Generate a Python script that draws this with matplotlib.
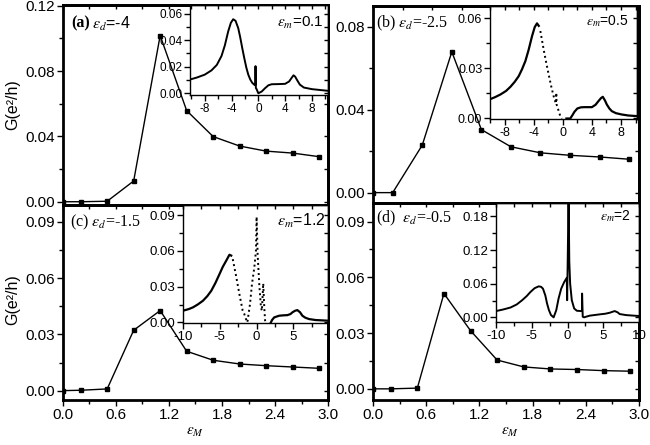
import numpy as np
import matplotlib.pyplot as plt
from matplotlib.ticker import MultipleLocator, FormatStrFormatter

plt.rcParams['font.family'] = ['Liberation Sans', 'DejaVu Sans']
plt.rcParams['mathtext.fontset'] = 'stix'

W, H = 650, 445

# main panels: G(e^2/h) against eps_M
eps_M = [0.0, 0.2, 0.5, 0.8, 1.1, 1.4, 1.7, 2.0, 2.3, 2.6, 2.9]
eps_M_b = [0.0, 0.2, 0.5, 0.8, 1.1, 1.4, 1.7, 2.0, 2.3, 2.6]
G_a = [0.0, 0.0, 0.0003, 0.0127, 0.1018, 0.0558, 0.0399, 0.0341, 0.0310, 0.0298, 0.0276]
G_b = [0.0, 0.0, 0.0229, 0.0679, 0.0304, 0.0221, 0.0192, 0.0180, 0.0172, 0.0161]
G_c = [0.0, 0.0002, 0.0009, 0.0322, 0.0427, 0.0210, 0.0162, 0.0142, 0.0133, 0.0126, 0.0119]
G_d = [0.0, 0.0, 0.0004, 0.0513, 0.0313, 0.0155, 0.0118, 0.0107, 0.0104, 0.0098, 0.0095]

# insets (G against energy)
ins_a_x = [-10.3, -9.2, -8.0, -7.0, -6.2, -5.5, -5.0, -4.5, -4.1, -3.75, -3.4, -3.0, -2.7, -2.4,
           -2.1, -1.8, -1.5, -1.2, -0.9, -0.6, -0.45, -0.42, -0.40, -0.37, -0.25, 0.0, 0.5, 1.0,
           1.5, 2.0, 3.0, 4.0, 4.6, 5.0, 5.25, 5.5, 5.8, 6.2, 6.8, 8.0, 10.5]
ins_a_y = [0.0102, 0.0118, 0.0140, 0.0172, 0.0213, 0.0280, 0.0360, 0.0465, 0.0530, 0.0557, 0.0545,
           0.0490, 0.0420, 0.0340, 0.0265, 0.0195, 0.0140, 0.0103, 0.0078, 0.0064, 0.0062, 0.0204,
           0.0120, 0.0040, 0.0030, 0.0, 0.0013, 0.0038, 0.0060, 0.0068, 0.0069, 0.0071, 0.0089,
           0.0118, 0.0135, 0.0125, 0.0098, 0.0065, 0.0043, 0.0031, 0.0018]

ins_b_x = [-10.3, -9.3, -8.56, -7.8, -7.19, -6.6, -6.05, -5.6, -5.14, -4.7, -4.22, -3.85, -3.54,
           -3.3, -3.08, -2.63, -2.3, -1.94, -1.6, -1.26, -0.95, -0.89, -0.85, -0.6, -0.34, -0.12,
           0.5, 1.03, 1.3, 1.6, 2.0, 2.5, 3.0, 4.0, 4.5, 4.9, 5.25, 5.5, 5.8, 6.05, 6.4, 6.74,
           7.3, 8.1, 9.0, 10.3]
ins_b_y = [0.0110, 0.0128, 0.0144, 0.0165, 0.0190, 0.0220, 0.0254, 0.0295, 0.0344, 0.0410, 0.0494,
           0.0548, 0.0570, 0.0555, 0.0524, 0.0414, 0.0340, 0.0264, 0.0195, 0.0134, 0.0090, 0.0154,
           0.0084, 0.0050, 0.0014, 0.0, 0.0, 0.0, 0.0018, 0.0040, 0.0060, 0.0067, 0.0068, 0.0068,
           0.0082, 0.0104, 0.0122, 0.0130, 0.0108, 0.0084, 0.0060, 0.0044, 0.0032, 0.0024, 0.0018,
           0.0014]
ins_b_dots = (-3.1, -0.1)

ins_c_x = [-10.0, -9.2, -8.65, -8.0, -7.3, -6.7, -6.16, -5.6, -5.04, -4.6, -4.14, -3.69, -3.45,
           -3.24, -2.79, -2.34, -1.89, -1.67, -1.44, -1.3, -1.22, -0.9, -0.63, -0.31, -0.09, 0.0,
           0.14, 0.36, 0.59, 0.72, 0.9, 1.04, 1.17, 1.94, 2.1, 2.39, 3.06, 3.6, 4.19, 4.6, 4.86,
           5.2, 5.54, 5.9, 6.22, 6.6, 7.12, 8.0, 9.8]
ins_c_y = [0.0098, 0.0112, 0.0126, 0.0150, 0.0181, 0.0220, 0.0265, 0.0330, 0.0405, 0.0465, 0.0516,
           0.0567, 0.0560, 0.0530, 0.0390, 0.0237, 0.0098, 0.0070, 0.0028, 0.0, 0.0014, 0.0153,
           0.0320, 0.0460, 0.0600, 0.0885, 0.0570, 0.0320, 0.0126, 0.0098, 0.0327, 0.0126, 0.0,
           0.0, 0.0020, 0.0042, 0.0056, 0.0059, 0.0061, 0.0070, 0.0084, 0.0097, 0.0103, 0.0085,
           0.0056, 0.0040, 0.0028, 0.0020, 0.0014]
ins_c_dots = (-3.3, 1.2)

ins_d_x = [-10.0, -9.0, -7.96, -7.1, -6.34, -5.7, -5.18, -4.6, -4.03, -3.7, -3.43, -3.1, -2.86,
           -2.6, -2.31, -1.94, -1.57, -1.25, -0.88, -0.46, -0.1, -0.05, 0.05, 0.15, 0.25, 0.37,
           0.6, 0.93, 1.3, 1.85, 2.02, 2.04, 2.13, 2.3, 3.1, 4.5, 5.3, 5.9, 6.6, 7.0, 7.3, 8.2,
           10.0]
ins_d_y = [0.0112, 0.0140, 0.0176, 0.0230, 0.0306, 0.0380, 0.0453, 0.0520, 0.0553, 0.0545, 0.0512,
           0.0390, 0.0247, 0.0130, 0.0041, 0.0, 0.0129, 0.0335, 0.0512, 0.0630, 0.0706, 0.0306,
           0.1200, 0.2200, 0.1000, 0.0600, 0.0306, 0.0159, 0.0118, 0.0112, 0.0112, 0.0424, 0.0012,
           0.0, 0.0030, 0.0053, 0.0065, 0.0082, 0.0112, 0.0090, 0.0059, 0.0040, 0.0024]


def box(l, r, t, b):
    return [l / W, 1 - b / H, (r - l) / W, (b - t) / H]


def style(ax, xmaj, ymaj, xfmt, yfmt, size, lw, xlabels=True):
    for s in ax.spines.values():
        s.set_linewidth(lw)
    ax.xaxis.set_major_locator(MultipleLocator(xmaj))
    ax.xaxis.set_minor_locator(MultipleLocator(xmaj / 2))
    ax.yaxis.set_major_locator(MultipleLocator(ymaj))
    ax.yaxis.set_minor_locator(MultipleLocator(ymaj / 2))
    ax.xaxis.set_major_formatter(FormatStrFormatter(xfmt))
    ax.yaxis.set_major_formatter(FormatStrFormatter(yfmt))
    ax.tick_params(which='major', direction='out', length=4, width=1, labelsize=size, pad=1.5)
    ax.tick_params(which='minor', direction='out', length=3, width=1)
    if not xlabels:
        ax.tick_params(labelbottom=False)
    top = ax.secondary_xaxis('top')
    top.xaxis.set_major_locator(MultipleLocator(xmaj))
    top.xaxis.set_minor_locator(MultipleLocator(xmaj / 2))
    top.tick_params(which='both', direction='in', labeltop=False, length=3, width=1)
    top.spines['top'].set_linewidth(lw)
    right = ax.secondary_yaxis('right')
    right.yaxis.set_major_locator(MultipleLocator(ymaj))
    right.yaxis.set_minor_locator(MultipleLocator(ymaj / 2))
    right.tick_params(which='both', direction='in', labelright=False, length=3, width=1)
    right.spines['right'].set_linewidth(lw)


def inset_curve(ax, x, y, dots=None):
    x = np.array(x)
    y = np.array(y)
    if dots is None:
        ax.plot(x, y, color='black', lw=1.4)
        return
    lo, hi = dots
    left = x <= lo
    mid = (x >= lo) & (x <= hi)
    right = x >= hi
    ax.plot(x[left], y[left], color='black', lw=1.6)
    ax.plot(x[mid], y[mid], color='black', lw=1.4, ls=(0, (1, 1.6)))
    ax.plot(x[right], y[right], color='black', lw=1.6)


fig = plt.figure(figsize=(W / 100, H / 100), dpi=100)

ax_a = fig.add_axes(box(63, 328, 5, 205))
ax_b = fig.add_axes(box(373, 639, 6, 203))
ax_c = fig.add_axes(box(63, 328, 205, 400))
ax_d = fig.add_axes(box(373, 639, 203, 400))

for ax, xs, g, lim in [(ax_a, eps_M, G_a, (-0.002, 0.1205)),
                       (ax_b, eps_M_b, G_b, (-0.005, 0.09)),
                       (ax_c, eps_M, G_c, (-0.005, 0.099)),
                       (ax_d, eps_M, G_d, (-0.006, 0.1))]:
    ax.plot(xs, g, color='black', lw=1, marker='s', ms=3.5)
    ax.set_ylim(*lim)

ax_a.set_xlim(0, 3.0)
ax_b.set_xlim(0, 2.7)
ax_c.set_xlim(0, 3.0)
ax_d.set_xlim(0, 3.0)

style(ax_a, 0.6, 0.04, '%.1f', '%.2f', 11, 2, xlabels=False)
style(ax_b, 0.6, 0.04, '%.1f', '%.2f', 11, 2, xlabels=False)
style(ax_c, 0.6, 0.03, '%.1f', '%.2f', 11, 2)
style(ax_d, 0.6, 0.03, '%.1f', '%.2f', 11, 2)

# insets
ia = fig.add_axes(box(190, 328, 5, 95))
inset_curve(ia, ins_a_x, ins_a_y)
ia.set_xlim(-10.2, 10.4)
ia.set_ylim(-0.0013, 0.0664)
style(ia, 4, 0.02, '%d', '%.2f', 8.5, 1)

ib = fig.add_axes(box(490, 637, 6, 119))
inset_curve(ib, ins_b_x, ins_b_y, ins_b_dots)
ib.set_xlim(-10, 10.2)
ib.set_ylim(-0.0003, 0.0674)
style(ib, 4, 0.03, '%d', '%.2f', 9, 1)

ic = fig.add_axes(box(183, 328, 205, 323))
inset_curve(ic, ins_c_x, ins_c_y, ins_c_dots)
ic.set_xlim(-10, 9.7)
ic.set_ylim(-0.0005, 0.0984)
style(ic, 5, 0.03, '%d', '%.2f', 9.5, 1)

id_ = fig.add_axes(box(496, 639, 203, 322))
inset_curve(id_, ins_d_x, ins_d_y)
id_.set_xlim(-10, 10)
id_.set_ylim(-0.0083, 0.204)
style(id_, 5, 0.06, '%d', '%.2f', 9.5, 1)


def ftext(x, y, s, **kw):
    fig.text(x / W, 1 - y / H, s, ha='left', va='center', **kw)


serif = ['Liberation Serif', 'DejaVu Serif']
ftext(71, 23, '(a)', family=serif, fontsize=11.5, weight='bold')
ftext(92, 24, r'$\varepsilon_d$=-4', fontsize=11.5)
ftext(376, 23, r'(b) $\varepsilon_d$=-2.5', family=serif, fontsize=11.5)
ftext(70, 222, r'(c) $\varepsilon_d$=-1.5', family=serif, fontsize=11.5)
ftext(376, 218, r'(d)  $\varepsilon_d$=-0.5', family=serif, fontsize=11.5)

ftext(277, 23, r'$\varepsilon_m$=0.1', fontsize=11)
ftext(586, 21, r'$\varepsilon_m$=0.5', fontsize=10)
ftext(277, 221, r'$\varepsilon_m$=1.2', fontsize=11.5)
ftext(600, 216, r'$\varepsilon_m$=2', fontsize=10)

for y in (105, 300):
    fig.text(13 / W, 1 - y / H, 'G(e²/h)', rotation=90, ha='center', va='center', fontsize=11.5)
for x in (195, 510):
    fig.text(x / W, 1 - 432 / H, r'$\varepsilon_{M}$', ha='center', va='center', fontsize=11)

fig.savefig('out.png', dpi=100)
